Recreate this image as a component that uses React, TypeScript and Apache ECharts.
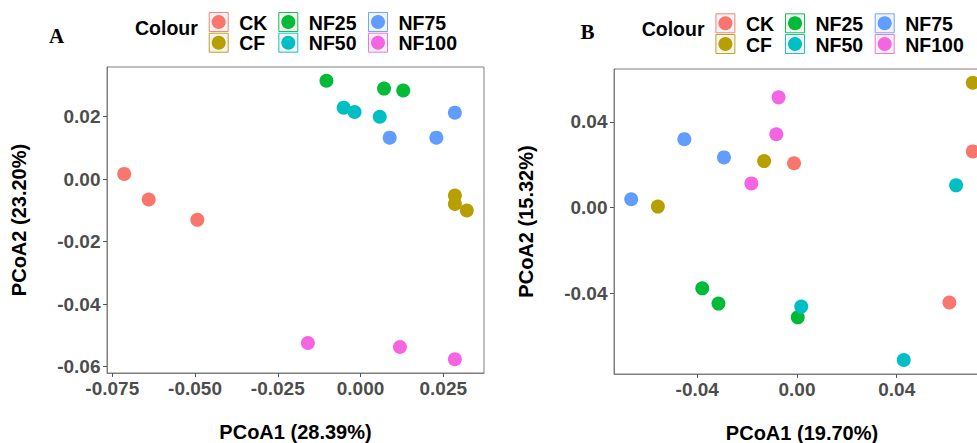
import React, { useEffect, useRef } from "react";
import * as echarts from "echarts";

const GROUPS = ["CK", "CF", "NF25", "NF50", "NF75", "NF100"];
const COLORS = ["#F8766D", "#B79F00", "#00BA38", "#00BFC4", "#619CFF", "#F564E3"];

// Panel A
const A_GROUP = ["CK", "CK", "CK", "CF", "CF", "CF", "NF25", "NF25", "NF25", "NF50", "NF50", "NF50", "NF75", "NF75", "NF75", "NF100", "NF100", "NF100"];
const A_X = [-0.0714, -0.064, -0.0493, 0.0285, 0.0285, 0.0321, -0.0103, 0.0071, 0.0129, -0.0051, -0.0018, 0.0058, 0.0088, 0.0229, 0.0285, -0.0159, 0.0119, 0.0285];
const A_Y = [0.0017, -0.0065, -0.013, -0.0052, -0.0079, -0.01, 0.0315, 0.029, 0.0284, 0.0229, 0.0215, 0.02, 0.0133, 0.0133, 0.0213, -0.0524, -0.0537, -0.0576];
const A_XTICKS = [-0.075, -0.05, -0.025, 0, 0.025];
const A_YTICKS = [-0.06, -0.04, -0.02, 0, 0.02];
const A_XLIM = [-0.0766, 0.0373];
const A_YLIM = [-0.062, 0.0359];

// Panel B
const B_GROUP = ["CK", "CK", "CK", "CF", "CF", "CF", "NF25", "NF25", "NF25", "NF50", "NF50", "NF50", "NF75", "NF75", "NF75", "NF100", "NF100", "NF100"];
const B_X = [-0.0012, 0.0705, 0.0611, -0.0558, -0.0132, 0.0705, -0.038, -0.0315, 0.0003, 0.0638, 0.0017, 0.0428, -0.0665, -0.0452, -0.0293, -0.0074, -0.0083, -0.0183];
const B_Y = [0.0207, 0.0262, -0.0442, 0.0005, 0.0217, 0.0582, -0.0376, -0.0447, -0.0511, 0.0104, -0.0461, -0.071, 0.0039, 0.0319, 0.0234, 0.0514, 0.0342, 0.0113];
const B_XTICKS = [-0.04, 0, 0.04];
const B_YTICKS = [-0.04, 0, 0.04];
const B_XLIM = [-0.0734, 0.0774];
const B_YLIM = [-0.0775, 0.0646];

const SANS = "'Liberation Sans', Arial, Helvetica, sans-serif";
const SERIF = "'Liberation Serif', 'Times New Roman', serif";

function makeAxis(grid: number, lim: number[], ticks: number[], digits: number, name: string, isY: boolean) {
  return {
    gridIndex: grid,
    type: "value",
    min: lim[0],
    max: lim[1],
    axisLine: { show: true, onZero: false, lineStyle: { color: "#7f7f7f", width: 1 } },
    axisTick: { show: true, length: 4, lineStyle: { color: "#555555" }, customValues: ticks },
    axisLabel: {
      customValues: ticks,
      formatter: (v: number) => v.toFixed(digits),
      color: "#4d4d4d",
      fontWeight: "bold",
      fontSize: 19,
      fontFamily: SANS,
      margin: isY ? 6.5 : 6,
    },
    splitLine: { show: false },
    name,
    nameLocation: "middle",
    nameGap: isY ? 78 : 49,
    nameTextStyle: { color: "#000000", fontWeight: "bold", fontSize: 20, fontFamily: SANS },
  };
}

function makeSeries(groups: string[], xs: number[], ys: number[], axisIndex: number) {
  return GROUPS.map((g, gi) => ({
    type: "scatter",
    name: g,
    xAxisIndex: axisIndex,
    yAxisIndex: axisIndex,
    symbol: "circle",
    symbolSize: 14,
    itemStyle: { color: COLORS[gi], opacity: 1 },
    data: groups.map((gg, i) => (gg === g ? [xs[i], ys[i]] : null)).filter((d) => d !== null),
  }));
}

function makeLegend(x0: number, y0: number, letter: string, lx: number, ly: number) {
  const els: any[] = [];
  els.push({
    type: "text",
    x: lx,
    y: ly,
    style: { text: letter, fill: "#000", font: `bold 21px ${SERIF}`, verticalAlign: "middle" },
  });
  els.push({
    type: "text",
    x: x0,
    y: y0 + 16,
    style: { text: "Colour", fill: "#000", font: `bold 19.5px ${SANS}`, verticalAlign: "middle" },
  });
  const colOff = [73.7, 143.3, 233];
  GROUPS.forEach((g, gi) => {
    const col = Math.floor(gi / 2);
    const row = gi % 2;
    const kx = x0 + colOff[col];
    const ky = y0 + row * 20.7;
    els.push({
      type: "rect",
      shape: { x: kx + 0.5, y: ky + 0.5, width: 19, height: 19 },
      style: { fill: "#f2f2f2", stroke: COLORS[gi], lineWidth: 1, opacity: 0.9 },
    });
    els.push({
      type: "circle",
      shape: { cx: kx + 10, cy: ky + 10, r: 7 },
      style: { fill: COLORS[gi] },
    });
    els.push({
      type: "text",
      x: kx + 30.5,
      y: ky + 10.5,
      style: { text: g, fill: "#000", font: `bold 19.5px ${SANS}`, verticalAlign: "middle" },
    });
  });
  return els;
}

export default function App() {
  const ref = useRef<HTMLDivElement>(null);
  useEffect(() => {
    if (!ref.current) return;
    const chart = echarts.init(ref.current, undefined, { renderer: "svg" });
    chart.setOption({
      animation: false,
      backgroundColor: "#ffffff",
      grid: [
        { left: 107, top: 67, width: 377, height: 306, show: true, borderColor: "#7f7f7f", borderWidth: 1, backgroundColor: "transparent", containLabel: false, outerBoundsMode: "none" },
        { left: 614, top: 69, width: 376, height: 305, show: true, borderColor: "#7f7f7f", borderWidth: 1, backgroundColor: "transparent", containLabel: false, outerBoundsMode: "none" },
      ],
      xAxis: [
        makeAxis(0, A_XLIM, A_XTICKS, 3, "PCoA1 (28.39%)", false),
        makeAxis(1, B_XLIM, B_XTICKS, 2, "PCoA1 (19.70%)", false),
      ],
      yAxis: [
        makeAxis(0, A_YLIM, A_YTICKS, 2, "PCoA2 (23.20%)", true),
        makeAxis(1, B_YLIM, B_YTICKS, 2, "PCoA2 (15.32%)", true),
      ],
      series: [
        ...makeSeries(A_GROUP, A_X, A_Y, 0),
        ...makeSeries(B_GROUP, B_X, B_Y, 1),
      ],
      graphic: [...makeLegend(135, 12, "A", 49, 36), ...makeLegend(641.7, 13.3, "B", 580.5, 31.5)],
    });
    return () => chart.dispose();
  }, []);
  return (
    <div style={{ position: "fixed", left: 0, top: 0, width: 977, height: 443, overflow: "hidden", background: "#fff" }}>
      <div ref={ref} style={{ width: 1000, height: 443 }} />
    </div>
  );
}
